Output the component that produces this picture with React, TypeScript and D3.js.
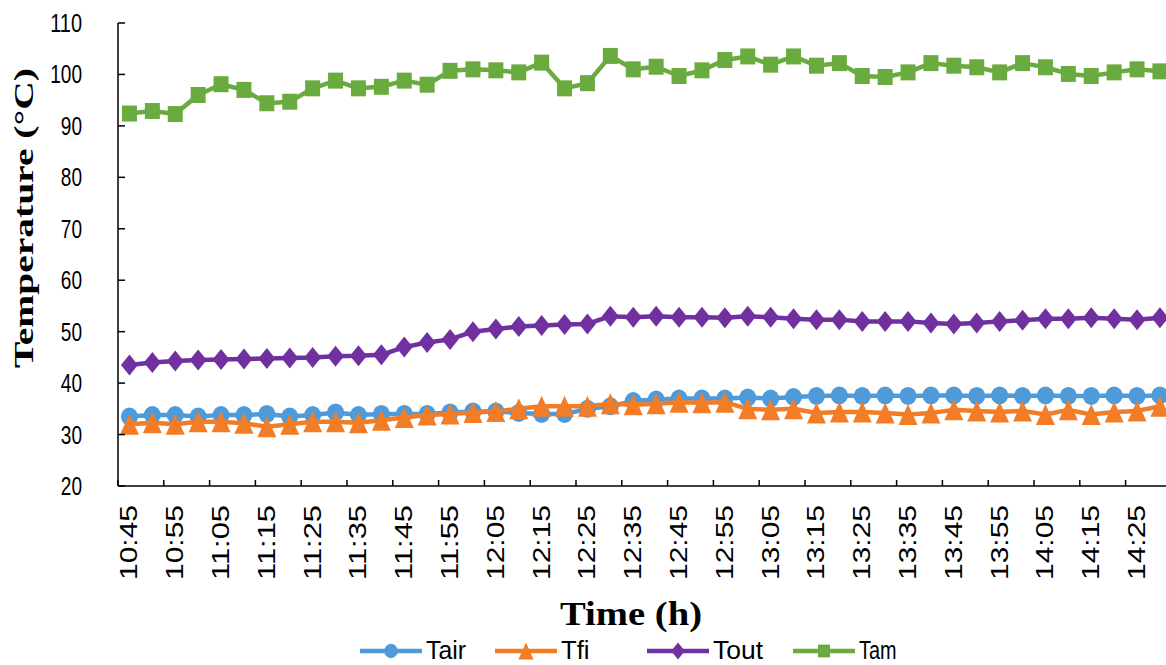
import React from 'react';
import * as d3 from 'd3';

const times = [
  '10:45','10:50','10:55','11:00','11:05','11:10','11:15','11:20','11:25','11:30',
  '11:35','11:40','11:45','11:50','11:55','12:00','12:05','12:10','12:15','12:20',
  '12:25','12:30','12:35','12:40','12:45','12:50','12:55','13:00','13:05','13:10',
  '13:15','13:20','13:25','13:30','13:35','13:40','13:45','13:50','13:55','14:00',
  '14:05','14:10','14:15','14:20','14:25','14:30'
];

const tickLabels = [
  '10:45','10:55','11:05','11:15','11:25','11:35','11:45','11:55','12:05','12:15',
  '12:25','12:35','12:45','12:55','13:05','13:15','13:25','13:35','13:45','13:55',
  '14:05','14:15','14:25'
];

const yTicks = [20, 30, 40, 50, 60, 70, 80, 90, 100, 110];

const tair = [33.5, 33.8, 33.8, 33.5, 33.8, 33.8, 34.0, 33.5, 33.8, 34.3, 33.8, 34.0, 34.0, 34.0, 34.3, 34.5, 34.5, 34.2, 34.0, 34.0, 35.0, 35.5, 36.5, 36.8, 37.0, 37.0, 37.0, 37.2, 37.0, 37.3, 37.5, 37.6, 37.5, 37.6, 37.5, 37.6, 37.6, 37.5, 37.6, 37.5, 37.6, 37.5, 37.5, 37.6, 37.5, 37.6];
const tfi = [32, 32.3, 32, 32.5, 32.5, 32.2, 31.5, 32, 32.5, 32.5, 32.3, 32.8, 33.3, 33.8, 34, 34.3, 34.5, 35, 35.5, 35.5, 35.5, 36, 35.8, 36, 36.3, 36.2, 36.3, 35, 34.8, 35, 34.2, 34.4, 34.4, 34.2, 33.9, 34.2, 34.8, 34.6, 34.4, 34.6, 33.9, 34.8, 33.9, 34.4, 34.6, 35.5];
const tout = [43.5, 44.0, 44.3, 44.5, 44.6, 44.7, 44.8, 44.9, 45.0, 45.2, 45.3, 45.5, 47.0, 47.9, 48.5, 50.0, 50.5, 51.0, 51.2, 51.4, 51.5, 53.0, 52.8, 53.0, 52.8, 52.8, 52.7, 53.0, 52.8, 52.5, 52.3, 52.3, 52.0, 52.0, 52.0, 51.7, 51.5, 51.7, 52.0, 52.2, 52.5, 52.5, 52.7, 52.5, 52.3, 52.7];
const tam = [92.4, 92.9, 92.3, 96.0, 98.1, 97.0, 94.4, 94.7, 97.3, 98.8, 97.3, 97.6, 98.8, 98.0, 100.7, 101.0, 100.8, 100.4, 102.3, 97.3, 98.3, 103.6, 101.0, 101.5, 99.7, 100.8, 102.8, 103.5, 101.9, 103.5, 101.7, 102.2, 99.7, 99.5, 100.4, 102.2, 101.7, 101.4, 100.4, 102.2, 101.4, 100.1, 99.7, 100.4, 101.0, 100.6];

const seriesNames = ['Tair', 'Tfi', 'Tout', 'Tam'];
const seriesValues = [tair, tfi, tout, tam];
const seriesColors = ['#4F9BD9', '#F27D26', '#7030A0', '#6AAB3F'];
const seriesMarkers = ['circle', 'triangle', 'diamond', 'square'];

const W = 1166;
const H = 665;
const plotLeft = 118;
const step = 22.9;
const plotTop = 23;
const plotBottom = 486;

function markerPath(kind: string, s: number): string {
  if (kind === 'circle') {
    const rx = 8.5 * s, ry = 9 * s;
    return `M${-rx},0 A${rx},${ry} 0 1,0 ${rx},0 A${rx},${ry} 0 1,0 ${-rx},0 Z`;
  }
  if (kind === 'triangle') {
    const w = 9.5 * s, h = 10.5 * s;
    return `M0,${-h} L${w},${h} L${-w},${h} Z`;
  }
  if (kind === 'diamond') {
    const w = 8.5 * s, h = 10.5 * s;
    return `M0,${-h} L${w},0 L0,${h} L${-w},0 Z`;
  }
  const w = 7.5 * s, h = 8 * s;
  return `M${-w},${-h} L${w},${-h} L${w},${h} L${-w},${h} Z`;
}

export default function App() {
  const x = d3.scaleBand<string>().domain(times).range([plotLeft, plotLeft + step * times.length]).paddingInner(0).paddingOuter(0);
  const bw = x.bandwidth();
  const cx = (t: string) => (x(t) as number) + bw / 2;
  const y = d3.scaleLinear().domain([20, 110]).range([plotBottom, plotTop]);

  const line = d3.line<number>().x((_, i) => cx(times[i])).y((v) => y(v));

  const boundaryTicks = times.filter((_, i) => i % 2 === 0).map((t) => x(t) as number);

  const legendX = [360, 495, 647, 793];

  return (
    <svg width={W} height={H} style={{ position: 'absolute', left: 0, top: 0, background: '#fff' }}>
      <rect x={0} y={0} width={W} height={H} fill="#fff" />
      {seriesValues.map((vals, si) => (
        <g key={seriesNames[si]}>
          <path d={line(vals) || ''} fill="none" stroke={seriesColors[si]} strokeWidth={4.5} strokeLinejoin="round" />
          {vals.map((v, i) => (
            <path key={i} d={markerPath(seriesMarkers[si], 1)} transform={`translate(${cx(times[i])},${y(v)})`} fill={seriesColors[si]} />
          ))}
        </g>
      ))}
      <line x1={plotLeft} x2={plotLeft} y1={plotTop} y2={plotBottom} stroke="#000" strokeWidth={1.5} />
      <line x1={plotLeft} x2={W} y1={plotBottom} y2={plotBottom} stroke="#000" strokeWidth={1.5} />
      {yTicks.map((t) => (
        <g key={t}>
          <line x1={plotLeft} x2={plotLeft + 7} y1={y(t)} y2={y(t)} stroke="#000" strokeWidth={1.5} />
          <text x={82} y={y(t) + 9} textAnchor="end" fontFamily="Liberation Sans, Arial, sans-serif" fontSize={25} textLength={String(t).length * 10.6} lengthAdjust="spacingAndGlyphs" fill="#000">{t}</text>
        </g>
      ))}
      {boundaryTicks.map((bx, i) => (
        <line key={i} x1={bx} x2={bx} y1={plotBottom} y2={plotBottom - 6} stroke="#000" strokeWidth={1.5} />
      ))}
      {tickLabels.map((t) => (
        <text key={t} transform={`translate(${cx(t) + 8},505) rotate(-90)`} textAnchor="end" fontFamily="Liberation Sans, Arial, sans-serif" fontSize={23} textLength={75} lengthAdjust="spacingAndGlyphs" fill="#000">{t}</text>
      ))}
      <text transform={`translate(33,218) rotate(-90)`} textAnchor="middle" fontFamily="Liberation Serif, Times New Roman, serif" fontWeight="bold" fontSize={27} textLength={300} lengthAdjust="spacingAndGlyphs" fill="#000">Temperature (°C)</text>
      <text x={631} y={625} textAnchor="middle" fontFamily="Liberation Serif, Times New Roman, serif" fontWeight="bold" fontSize={34} textLength={142} lengthAdjust="spacingAndGlyphs" fill="#000">Time (h)</text>
      {seriesNames.map((n, si) => (
        <g key={n} transform={`translate(${legendX[si]},651)`}>
          <line x1={0} x2={62} y1={0} y2={0} stroke={seriesColors[si]} strokeWidth={4.5} />
          <path d={markerPath(seriesMarkers[si], 0.8)} transform="translate(31,0)" fill={seriesColors[si]} />
          <text x={66} y={8} fontFamily="Liberation Sans, Arial, sans-serif" fontSize={25} textLength={n.length * (n === 'Tfi' ? 9.5 : n === 'Tair' ? 10 : 12.5)} lengthAdjust="spacingAndGlyphs" fill="#000">{n}</text>
        </g>
      ))}
    </svg>
  );
}
